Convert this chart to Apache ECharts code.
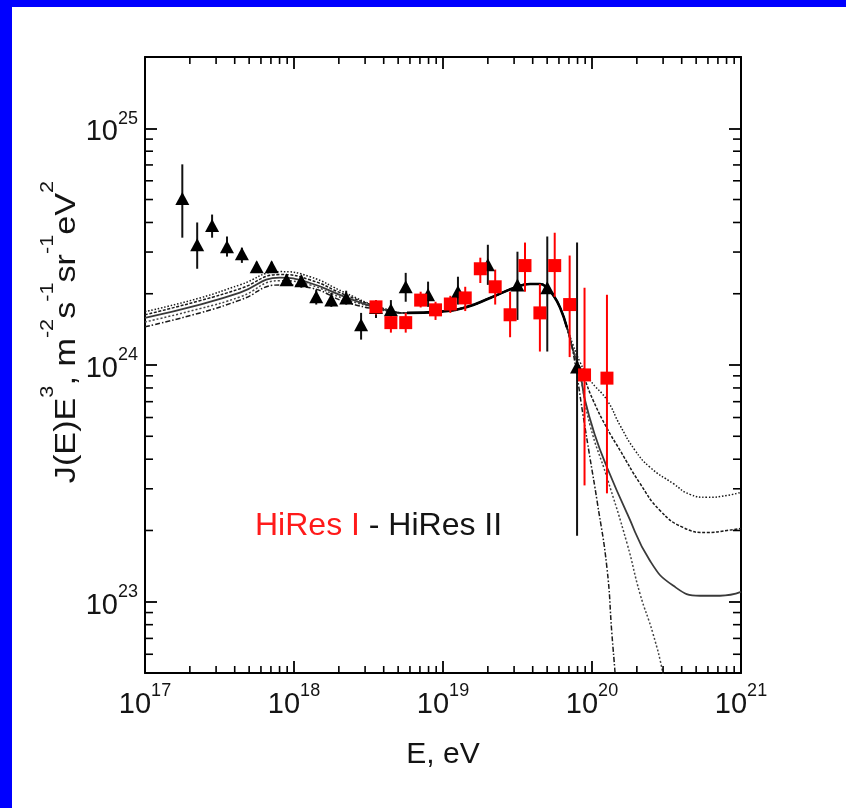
<!DOCTYPE html>
<html><head><meta charset="utf-8">
<script src="https://cdn.jsdelivr.net/npm/echarts@6/dist/echarts.min.js"></script>
<style>html,body{margin:0;padding:0;background:#fff}#c{width:846px;height:808px}</style>
</head><body><div id="c"></div><script>
// ---------------- data ----------------
// HiRes II (black triangles)
const hires2E  = [1.78e17, 2.24e17, 2.82e17, 3.55e17, 4.47e17, 5.62e17, 7.08e17, 8.91e17, 1.12e18, 1.41e18, 1.78e18, 2.24e18, 2.82e18, 3.55e18, 4.47e18, 5.62e18, 7.94e18, 1.26e19, 2.00e19, 3.16e19, 5.01e19, 7.94e19];
const hires2J  = [5.05e24, 3.22e24, 3.88e24, 3.16e24, 2.95e24, 2.60e24, 2.60e24, 2.29e24, 2.27e24, 1.94e24, 1.88e24, 1.92e24, 1.48e24, 1.75e24, 1.71e24, 2.14e24, 1.98e24, 2.04e24, 2.65e24, 2.18e24, 2.12e24, 9.8e23];
const hires2Lo = [3.45e24, 2.55e24, 3.45e24, 2.87e24, 2.70e24, 2.48e24, 2.48e24, 2.18e24, 2.12e24, 1.80e24, 1.76e24, 1.80e24, 1.28e24, 1.58e24, 1.52e24, 1.85e24, 1.76e24, 1.80e24, 2.18e24, 1.55e24, 1.14e24, 1.9e23];
const hires2Hi = [7.04e24, 4.00e24, 4.32e24, 3.49e24, 3.13e24, 2.73e24, 2.73e24, 2.41e24, 2.39e24, 2.08e24, 2.02e24, 2.06e24, 1.66e24, 1.88e24, 1.88e24, 2.45e24, 2.25e24, 2.36e24, 3.22e24, 3.01e24, 3.49e24, 3.29e24];
// HiRes I (red squares)
const hires1E  = [3.55e18, 4.47e18, 5.62e18, 7.08e18, 8.91e18, 1.12e19, 1.41e19, 1.78e19, 2.24e19, 2.82e19, 3.55e19, 4.47e19, 5.62e19, 7.08e19, 8.91e19, 1.26e20];
const hires1J  = [1.76e24, 1.51e24, 1.51e24, 1.88e24, 1.71e24, 1.81e24, 1.92e24, 2.55e24, 2.14e24, 1.63e24, 2.63e24, 1.66e24, 2.63e24, 1.80e24, 9.08e23, 8.8e23];
const hires1Lo = [1.63e24, 1.37e24, 1.37e24, 1.75e24, 1.55e24, 1.66e24, 1.69e24, 2.22e24, 1.80e24, 1.31e24, 2.04e24, 1.14e24, 1.94e24, 1.08e24, 3.1e23, 2.87e23];
const hires1Hi = [1.88e24, 1.66e24, 1.66e24, 2.04e24, 1.85e24, 1.96e24, 2.14e24, 2.84e24, 2.53e24, 2.04e24, 3.29e24, 2.20e24, 3.62e24, 2.90e24, 2.12e24, 1.98e24];

// model curves: common energy grid on the left and in the middle, individual tails
const modelLeftE = [1e17, 2.34e17, 4.34e17, 8.05e17, 1.28e18, 2.20e18, 3.78e18];
const model1LeftJ = [1.58e24, 1.80e24, 2.02e24, 2.34e24, 2.22e24, 1.94e24, 1.73e24];
const model2LeftJ = [1.63e24, 1.87e24, 2.10e24, 2.41e24, 2.29e24, 1.98e24, 1.75e24];
const model3LeftJ = [1.68e24, 1.92e24, 2.18e24, 2.48e24, 2.36e24, 2.02e24, 1.75e24];
const model5LeftJ = [1.52e24, 1.73e24, 1.94e24, 2.27e24, 2.18e24, 1.90e24, 1.73e24];
const model6LeftJ = [1.45e24, 1.66e24, 1.88e24, 2.18e24, 2.12e24, 1.85e24, 1.71e24];
const modelMidE = [5.73e18, 9.55e18, 1.45e19, 2.07e19, 3.14e19, 3.84e19, 4.48e19, 4.99e19, 5.47e19, 6.10e19, 6.79e19];
const modelMidJ = [1.66e24, 1.68e24, 1.76e24, 1.92e24, 2.14e24, 2.20e24, 2.20e24, 2.12e24, 1.98e24, 1.75e24, 1.44e24];
const model1TailE = [7.45e19, 8.30e19, 8.97e19, 1.047e20, 1.26e20, 1.72e20, 2.45e20, 3.50e20, 5.31e20, 7.23e20, 1e21];
const model1TailJ = [1.16e24, 9.33e23, 7.11e23, 5.05e23, 3.70e23, 2.36e23, 1.49e23, 1.17e23, 1.06e23, 1.06e23, 1.10e23];
const model2TailE = [7.45e19, 8.71e19, 1.016e20, 1.26e20, 1.54e20, 2.10e20, 2.86e20, 4.08e20, 5.92e20, 8.05e20, 1e21];
const model2TailJ = [1.16e24, 9.08e23, 7.11e23, 5.41e23, 4.37e23, 3.16e23, 2.43e23, 2.06e23, 1.96e23, 2.00e23, 2.04e23];
const model3TailE = [7.45e19, 8.30e19, 9.70e19, 1.26e20, 1.54e20, 1.94e20, 2.45e20, 3.50e20, 4.55e20, 5.92e20, 8.05e20, 1e21];
const model3TailJ = [1.22e24, 1.03e24, 8.64e23, 7.11e23, 5.57e23, 4.37e23, 3.70e23, 3.16e23, 2.84e23, 2.76e23, 2.81e23, 2.90e23];
const model5TailE = [7.45e19, 8.30e19, 9.70e19, 1.26e20, 1.72e20, 2.10e20, 2.57e20, 3.00e20, 3.19e20];
const model5TailJ = [1.16e24, 9.08e23, 5.57e23, 3.35e23, 1.76e23, 1.08e23, 7.31e22, 4.95e22, 3.8e22];
const model6TailE = [7.45e19, 8.71e19, 9.70e19, 1.08e20, 1.26e20, 1.36e20, 1.43e20, 1.47e20];
const model6TailJ = [1.14e24, 6.14e23, 4.04e23, 2.68e23, 1.39e23, 7.31e22, 4.95e22, 3.8e22];

const curveLabelText = ['1', '2', '3', '5', '6'];
const curveLabelE = [6.2e20, 6.9e20, 6.9e20, 3.19e20, 9.25e19];
const curveLabelJ = [1.39e23, 2.38e23, 3.66e23, 6.97e22, 7.0e22];

const xMinorTicks = [2e17,3e17,4e17,5e17,6e17,7e17,8e17,9e17, 2e18,3e18,4e18,5e18,6e18,7e18,8e18,9e18,
                     2e19,3e19,4e19,5e19,6e19,7e19,8e19,9e19, 2e20,3e20,4e20,5e20,6e20,7e20,8e20,9e20];
const yMinorTicks = [6e22,7e22,8e22,9e22, 2e23,3e23,4e23,5e23,6e23,7e23,8e23,9e23, 2e24,3e24,4e24,5e24,6e24,7e24,8e24,9e24];

const xMin = 1e17, xMax = 1e21, yMin = 5e22, yMax = 2e25;

// ---------------- build ----------------
const FONT = '"Liberation Sans", Arial, Helvetica, sans-serif';
const INK = '#141414';
function pairs(E, J) { return E.map((e, i) => [e, J[i]]); }
function curve(leftJ, tailE, tailJ) {
  return pairs(modelLeftE, leftJ).concat(pairs(modelMidE, modelMidJ), pairs(tailE, tailJ));
}
function powLabel(v) {
  const e = Math.log10(v), r = Math.round(e);
  if (Math.abs(e - r) > 1e-6) return '';
  return '{b|10}{s|' + r + '}';
}
const richLab = {
  b: { fontSize: 29, lineHeight: 37, fontFamily: FONT, color: INK, verticalAlign: 'bottom' },
  s: { fontSize: 18, lineHeight: 18, fontFamily: FONT, color: INK, verticalAlign: 'top' }
};
const frameLine = { show: true, lineStyle: { color: '#000', width: 2 } };
const majorTick = { show: true, inside: true, length: 12, lineStyle: { color: '#000', width: 1.8 } };

function lineSeries(data, style, z) {
  return { type: 'line', data, showSymbol: false, symbol: 'none', smooth: 0.5,
    clip: true, silent: true, z: z || 2, lineStyle: style };
}
function errSeries(E, lo, hi, color) {
  return { type: 'custom', silent: true, z: 3, clip: true,
    encode: { x: 0, y: [1, 2] },
    data: E.map((e, i) => [e, lo[i], hi[i]]),
    renderItem: (params, api) => {
      const p1 = api.coord([api.value(0), api.value(1)]);
      const p2 = api.coord([api.value(0), api.value(2)]);
      return { type: 'line', shape: { x1: p1[0], y1: p1[1], x2: p2[0], y2: p2[1] },
        style: { stroke: color, lineWidth: 2 } };
    } };
}

const option = {
  animation: false,
  textStyle: { fontFamily: FONT },
  grid: { left: 145, top: 57, width: 596, height: 616, containLabel: false },
  xAxis: [
    { type: 'log', logBase: 10, min: xMin, max: xMax, position: 'bottom',
      axisLine: frameLine, axisTick: majorTick, splitLine: { show: false }, minorTick: { show: false },
      axisLabel: { formatter: powLabel, rich: richLab, margin: 9, showMinLabel: true, showMaxLabel: true } },
    { type: 'log', logBase: 10, min: xMin, max: xMax, position: 'top',
      axisLine: frameLine, axisTick: majorTick, splitLine: { show: false }, axisLabel: { show: false } }
  ],
  yAxis: [
    { type: 'log', logBase: 10, min: yMin, max: yMax, position: 'left',
      axisLine: frameLine, axisTick: majorTick, splitLine: { show: false }, minorTick: { show: false },
      axisLabel: { formatter: powLabel, rich: richLab, margin: 7, showMinLabel: false, showMaxLabel: false } },
    { type: 'log', logBase: 10, min: yMin, max: yMax, position: 'right',
      axisLine: frameLine, axisTick: majorTick, splitLine: { show: false }, axisLabel: { show: false } }
  ],
  series: [
    lineSeries(curve(model3LeftJ, model3TailE, model3TailJ), { color: '#1a1a1a', width: 1.5, type: [1.5, 1.8] }),
    lineSeries(curve(model2LeftJ, model2TailE, model2TailJ), { color: '#1a1a1a', width: 1.5, type: [3, 1.6] }),
    lineSeries(curve(model1LeftJ, model1TailE, model1TailJ), { color: '#3a3a3a', width: 1.8, type: 'solid' }),
    lineSeries(curve(model5LeftJ, model5TailE, model5TailJ), { color: '#444', width: 1.5, type: [2, 2] }),
    lineSeries(curve(model6LeftJ, model6TailE, model6TailJ), { color: '#1a1a1a', width: 1.5, type: [5, 2, 1.5, 2] }),
    // the stretch where all models coincide
    lineSeries(pairs(modelMidE, modelMidJ), { color: '#000', width: 2.6, type: 'solid' }, 2.5),
    errSeries(hires2E, hires2Lo, hires2Hi, '#111'),
    errSeries(hires1E, hires1Lo, hires1Hi, '#ff0000'),
    { type: 'scatter', silent: true, z: 4, symbol: 'triangle', symbolSize: [14, 13],
      itemStyle: { color: '#000', opacity: 1 }, data: pairs(hires2E, hires2J) },
    { type: 'scatter', silent: true, z: 5, symbol: 'rect', symbolSize: 13,
      itemStyle: { color: '#ff0000', opacity: 1 }, data: pairs(hires1E, hires1J) },
    { type: 'scatter', silent: true, z: 6, symbolSize: 1, itemStyle: { opacity: 0 },
      label: { show: true, position: 'inside', formatter: '{b}', fontSize: 24, fontFamily: FONT, color: '#222' },
      data: curveLabelE.map((e, i) => ({ name: curveLabelText[i], value: [e, curveLabelJ[i]] })) },
    { type: 'custom', silent: true, clip: false, z: 7, data: xMinorTicks.map(v => [v, 1e24]),
      renderItem: (params, api) => {
        const cs = params.coordSys; const p = api.coord([api.value(0), api.value(1)]);
        const st = { stroke: '#000', lineWidth: 1.6 };
        return { type: 'group', children: [
          { type: 'line', shape: { x1: p[0], y1: cs.y + cs.height, x2: p[0], y2: cs.y + cs.height - 7 }, style: st },
          { type: 'line', shape: { x1: p[0], y1: cs.y, x2: p[0], y2: cs.y + 7 }, style: st } ] };
      } },
    { type: 'custom', silent: true, clip: false, z: 7, data: yMinorTicks.map(v => [1e18, v]),
      renderItem: (params, api) => {
        const cs = params.coordSys; const p = api.coord([api.value(0), api.value(1)]);
        const st = { stroke: '#000', lineWidth: 1.6 };
        return { type: 'group', children: [
          { type: 'line', shape: { x1: cs.x, y1: p[1], x2: cs.x + 8, y2: p[1] }, style: st },
          { type: 'line', shape: { x1: cs.x + cs.width, y1: p[1], x2: cs.x + cs.width - 8, y2: p[1] }, style: st } ] };
      } }
  ],
  graphic: [
    { type: 'rect', left: 0, top: 0, z: 100, shape: { width: 12, height: 808 }, style: { fill: '#0000ff' } },
    { type: 'rect', left: 0, top: 0, z: 100, shape: { width: 846, height: 7 }, style: { fill: '#0000ff' } },
    { type: 'text', x: 255, y: 526, z: 50, style: {
        text: '{r|HiRes I}{k| - HiRes II}', verticalAlign: 'middle', align: 'left',
        rich: { r: { fill: '#ff1a1a', fontSize: 32, fontFamily: FONT }, k: { fill: INK, fontSize: 32, fontFamily: FONT } } } },
    { type: 'text', x: 443, y: 755, z: 50, style: {
        text: 'E, eV', fill: INK, fontSize: 30, fontFamily: FONT, align: 'center', verticalAlign: 'middle' } },
    { type: 'text', x: 60, y: 332, rotation: Math.PI / 2, scaleX: 1.14, z: 50, style: {
        text: '{m|J(E)E}{s|3}{m|, m}{s|-2}{m|s}{s|-1}{m|sr}{s|-1}{m|eV}{s|2}',
        align: 'center', verticalAlign: 'middle',
        rich: { m: { fill: INK, fontSize: 30, lineHeight: 43, fontFamily: FONT, verticalAlign: 'bottom' },
                s: { fill: INK, fontSize: 19, lineHeight: 19, fontFamily: FONT, verticalAlign: 'top' } } } }
  ]
};
const chart = echarts.init(document.getElementById('c'), null, { renderer: 'canvas' });
chart.setOption(option);
</script></body></html>
